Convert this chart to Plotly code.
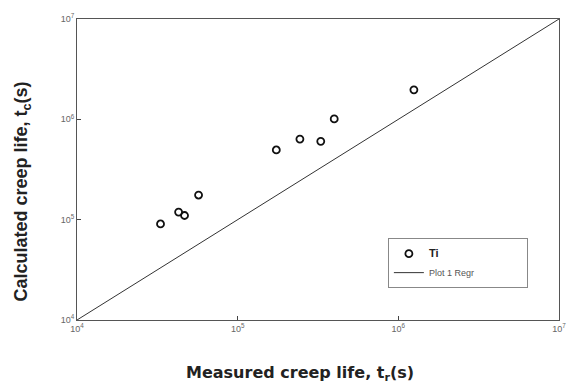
import plotly.graph_objects as go

# Measured vs calculated creep life for Ti (seconds)
measured_life = [3.31e4, 4.29e4, 4.67e4, 5.71e4, 1.74e5, 2.44e5, 3.29e5, 3.99e5, 1.25e6]
calculated_life = [9.06e4, 1.19e5, 1.10e5, 1.76e5, 4.95e5, 6.35e5, 6.03e5, 1.01e6, 1.97e6]

# Reference line t_c = t_r across the full axis span
regr_x = [1e4, 1e7]
regr_y = [1e4, 1e7]

tick_vals = [1e4, 1e5, 1e6, 1e7]
tick_text = ["10<sup>4</sup>", "10<sup>5</sup>", "10<sup>6</sup>", "10<sup>7</sup>"]

fig = go.Figure()

fig.add_trace(go.Scatter(
    x=measured_life, y=calculated_life,
    mode="markers",
    name="<b><span style='font-size:11px;color:#222'>Ti</span></b>",
    marker=dict(symbol="circle-open", size=7, color="#111", line=dict(width=1.8, color="#111")),
))

fig.add_trace(go.Scatter(
    x=regr_x, y=regr_y,
    mode="lines",
    name="Plot 1 Regr" + "&nbsp;" * 19,
    line=dict(color="#333", width=1),
))

axis_common = dict(
    type="log",
    range=[4, 7],
    tickvals=tick_vals,
    ticktext=tick_text,
    ticks="inside",
    ticklen=4,
    tickwidth=1,
    tickcolor="#444",
    showline=True,
    linecolor="#555",
    linewidth=1,
    mirror=True,
    showgrid=False,
    zeroline=False,
    tickfont=dict(family="Liberation Sans, Arial, sans-serif", size=9, color="#666"),
)

fig.update_layout(
    width=578, height=385,
    margin=dict(l=77, r=12, t=15, b=65),
    paper_bgcolor="white",
    plot_bgcolor="white",
    font=dict(family="Liberation Sans, Arial, sans-serif"),
    xaxis=dict(**axis_common),
    yaxis=dict(**axis_common),
    showlegend=True,
    legend=dict(
        x=0.645, y=0.272, xanchor="left", yanchor="top",
        bordercolor="#888", borderwidth=1,
        bgcolor="white",
        font=dict(size=9, color="#555"),
        itemwidth=30,
    ),
    annotations=[
        dict(
            text="<b>Measured creep life, t<sub>r</sub>(s)</b>",
            xref="paper", yref="paper",
            x=(303 - 77) / 489, y=-(374 - 320) / 305,
            xanchor="center", yanchor="middle",
            showarrow=False,
            font=dict(size=16, color="#222", family="DejaVu Sans, sans-serif"),
        ),
        dict(
            text="<b>Calculated creep life, t<sub>c</sub>(s)</b>",
            xref="paper", yref="paper",
            x=-(77 - 22) / 489, y=(320 - 190) / 305,
            xanchor="center", yanchor="middle",
            textangle=-90,
            showarrow=False,
            font=dict(size=18, color="#222", family="Liberation Sans, Arial, sans-serif"),
        ),
    ],
)

fig.write_html("out.html")
